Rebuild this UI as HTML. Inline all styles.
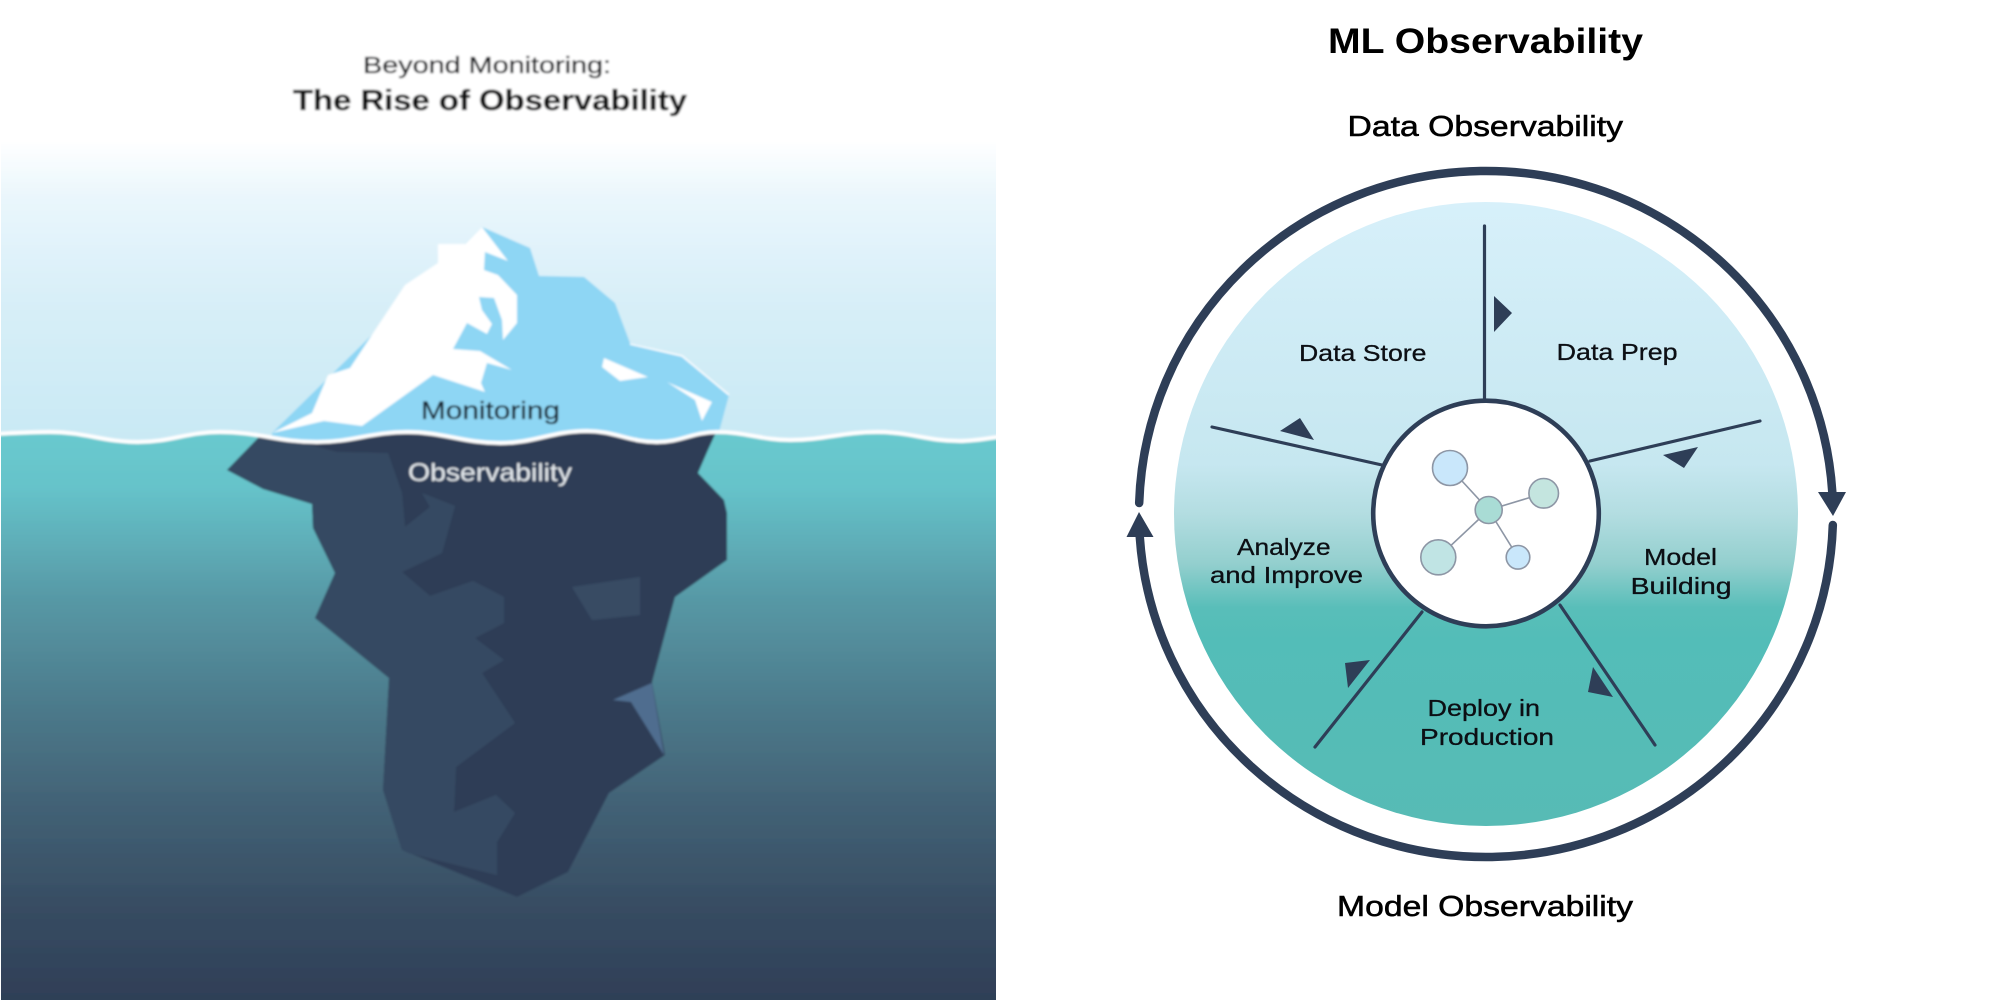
<!DOCTYPE html>
<html><head><meta charset="utf-8"><style>
html,body{margin:0;padding:0;background:#fff}
svg{display:block}
text{font-family:"Liberation Sans",sans-serif}
.m{fill:#0c0f14;stroke:#0c0f14;stroke-width:.3}
.h{fill:#000;stroke:#000;stroke-width:.55}
</style></head><body>
<svg xmlns="http://www.w3.org/2000/svg" width="1996" height="1000" viewBox="0 0 1996 1000">
<defs>
<linearGradient id="sky" gradientUnits="userSpaceOnUse" x1="0" y1="140" x2="0" y2="440">
<stop offset="0" stop-color="#fff"/><stop offset=".2" stop-color="#e9f6fc"/><stop offset=".53" stop-color="#d8eff8"/><stop offset="1" stop-color="#c9e9f4"/>
</linearGradient>
<linearGradient id="sea" gradientUnits="userSpaceOnUse" x1="0" y1="437" x2="0" y2="1000">
<stop offset="0" stop-color="#68c9ce"/><stop offset=".09" stop-color="#66c3ca"/><stop offset=".29" stop-color="#5798a5"/><stop offset=".48" stop-color="#4c7a8b"/><stop offset=".66" stop-color="#426175"/><stop offset=".84" stop-color="#374c62"/><stop offset="1" stop-color="#2f3f57"/>
</linearGradient>
<linearGradient id="disc" gradientUnits="userSpaceOnUse" x1="0" y1="202" x2="0" y2="826">
<stop offset="0" stop-color="#d7f0fa"/><stop offset=".42" stop-color="#c6e7f0"/><stop offset=".5" stop-color="#b3dde1"/><stop offset=".58" stop-color="#93cfce"/><stop offset=".65" stop-color="#59beb9"/><stop offset=".7" stop-color="#53bdb8"/><stop offset="1" stop-color="#57bbb5"/>
</linearGradient>
<filter id="b" x="-2%" y="-2%" width="104%" height="104%"><feGaussianBlur stdDeviation="1"/></filter>
<clipPath id="lp"><rect x="1" y="0" width="995" height="1000"/></clipPath>
<clipPath id="below"><path d="M-5 434 C15 433,30 432,50 432 C85 432,103 442,138 442 C171 442,187 432,220 432 C259 432,278 442,317 442 C353 442,371 432,407 432 C444 432,463 443,500 443 C535 443,552 431,587 431 C615 431,629 442,657 442 C681 442,693 432,717 432 C746 432,761 440,790 440 C825 440,842 432,877 432 C910 432,927 441,960 441 C975 441,990 438,1005 436 L1005 1005 L-5 1005 Z"/></clipPath>
</defs>

<g clip-path="url(#lp)"><g filter="url(#b)">
<rect x="-5" y="0" width="1010" height="1005" fill="url(#sky)"/>
<polygon fill="#8ed6f4" points="482,227 530,248 539,276 584,277 615,303 630,343 682,356 729,395 719,432 716,450 272,450 272,433"/>
<polyline fill="none" stroke="#fff" stroke-width="1.5" points="630,344 682,356 729,395"/>
<polygon fill="#fff" points="272,433 312,413 328,375 350,368 405,285 438,263 438,244 465,244 482,227 508,261 485,252 484,270 498,275 517,295 517,323 503,340 502,320 494,298 479,297 482,310 492,324 487,334 467,323 453,349 480,351 512,370 487,363 481,383 485,392 433,375 362,426 324,421"/>
<polygon fill="#fff" points="604,358 648,377 620,381 602,367"/>
<polygon fill="#fff" points="667,382 712,402 702,421 695,400"/>
<rect x="-5" y="420" width="1010" height="590" fill="url(#sea)" clip-path="url(#below)"/>
<g clip-path="url(#below)">
<polygon fill="#2e3e57" points="268,428 718,428 708,450 698,473 724,500 727,513 727,560 675,597 652,682 665,755 609,793 568,872 517,897 402,850 383,790 389,678 315,618 335,573 313,528 312,504 263,489 227,470 258,438"/>
<polygon fill="#364a62" points="258,438 310,445 337,452 388,453 402,493 405,527 430,507 422,493 455,506 442,553 402,572 430,596 473,581 504,597 504,623 475,638 504,660 482,673 515,723 456,767 454,812 496,795 515,813 497,842 497,875 408,853 402,850 383,790 389,678 315,618 335,573 313,528 312,504 263,489 227,470"/>
<polygon fill="#374b63" points="572,587 640,577 640,615 592,620"/>
<polygon fill="#4f6d8f" points="613,700 652,683 664,755 631,702"/>
</g>
<path fill="none" stroke="#fff" stroke-width="4" d="M-5 434 C15 433,30 432,50 432 C85 432,103 442,138 442 C171 442,187 432,220 432 C259 432,278 442,317 442 C353 442,371 432,407 432 C444 432,463 443,500 443 C535 443,552 431,587 431 C615 431,629 442,657 442 C681 442,693 432,717 432 C746 432,761 440,790 440 C825 440,842 432,877 432 C910 432,927 441,960 441 C975 441,990 438,1005 436"/>
<text x="363" y="73" font-size="23" fill="#14171c" stroke="#14171c" stroke-width=".35" textLength="248" lengthAdjust="spacingAndGlyphs">Beyond Monitoring:</text>
<text x="293" y="110" font-size="29" font-weight="bold" fill="#0b0d11" stroke="#0b0d11" stroke-width=".3" textLength="394" lengthAdjust="spacingAndGlyphs">The Rise of Observability</text>
<text x="421" y="419" font-size="25" fill="#16222f" stroke="#16222f" stroke-width=".3" textLength="139" lengthAdjust="spacingAndGlyphs">Monitoring</text>
<text x="408" y="481" font-size="25" fill="#e6ebef" textLength="164" lengthAdjust="spacingAndGlyphs">Observability</text>
</g></g>

<circle cx="1486" cy="514" r="312" fill="url(#disc)"/>
<path d="M1139.18 503 A347 343 0 0 1 1832.29 492" fill="none" stroke="#2e3e57" stroke-width="8.5" stroke-linecap="round"/>
<path d="M1832.82 525 A347 343 0 0 1 1139.78 537" fill="none" stroke="#2e3e57" stroke-width="8.5" stroke-linecap="round"/>
<polygon fill="#2e3e57" points="1818,492 1846,492 1833,516"/>
<polygon fill="#2e3e57" points="1126.5,537 1153.5,537 1139,512"/>

<g stroke="#2e3e57" stroke-width="3.2" stroke-linecap="round" fill="none">
<line x1="1484.5" y1="226" x2="1484.5" y2="402"/>
<line x1="1760" y1="421" x2="1590" y2="461"/>
<line x1="1212" y1="427" x2="1382" y2="465"/>
<line x1="1315" y1="747" x2="1422" y2="612"/>
<line x1="1655" y1="745" x2="1560" y2="605"/>
</g>
<circle cx="1486" cy="513.5" r="112.8" fill="#fff" stroke="#2e3e57" stroke-width="4.6"/>
<g fill="#2e3e57">
<polygon points="1494,296 1512,313 1494,332"/>
<polygon points="1300,418 1314,440 1280,431"/>
<polygon points="1698,447 1663,455 1684,468"/>
<polygon points="1370,660 1345,663 1348,688"/>
<polygon points="1593,667 1588,692 1613,697"/>
</g>
<g stroke="#8d96a5" stroke-width="1.6">
<line x1="1450" y1="468" x2="1488.7" y2="510"/>
<line x1="1543.7" y1="493.3" x2="1488.7" y2="510"/>
<line x1="1438.3" y1="557.3" x2="1488.7" y2="510"/>
<line x1="1518" y1="557.3" x2="1488.7" y2="510"/>
<circle cx="1450" cy="468" r="17.5" fill="#c9e7fb"/>
<circle cx="1543.7" cy="493.3" r="14.8" fill="#c4e5df"/>
<circle cx="1488.7" cy="510" r="13.5" fill="#a9dcd5"/>
<circle cx="1438.3" cy="557.3" r="17.5" fill="#c0e4e4"/>
<circle cx="1518" cy="557.3" r="11.8" fill="#c9e7fb"/>
</g>

<text x="1328" y="53" font-size="35.5" font-weight="bold" fill="#000" textLength="315" lengthAdjust="spacingAndGlyphs">ML Observability</text>
<text class="h" x="1347.5" y="136" font-size="29" textLength="275.5" lengthAdjust="spacingAndGlyphs">Data Observability</text>
<text class="h" x="1337" y="916" font-size="29" textLength="296" lengthAdjust="spacingAndGlyphs">Model Observability</text>
<text class="m" x="1299" y="361" font-size="23.5" textLength="127.5" lengthAdjust="spacingAndGlyphs">Data Store</text>
<text class="m" x="1556.6" y="360" font-size="23.5" textLength="121" lengthAdjust="spacingAndGlyphs">Data Prep</text>
<text class="m" x="1237" y="555" font-size="23.5" textLength="93.6" lengthAdjust="spacingAndGlyphs">Analyze</text>
<text class="m" x="1210" y="583" font-size="23.5" textLength="153" lengthAdjust="spacingAndGlyphs">and Improve</text>
<text class="m" x="1644" y="565" font-size="23.5" textLength="73" lengthAdjust="spacingAndGlyphs">Model</text>
<text class="m" x="1630.6" y="594" font-size="23.5" textLength="101" lengthAdjust="spacingAndGlyphs">Building</text>
<text class="m" x="1427.5" y="716" font-size="23.5" textLength="112.5" lengthAdjust="spacingAndGlyphs">Deploy in</text>
<text class="m" x="1420" y="745" font-size="23.5" textLength="134" lengthAdjust="spacingAndGlyphs">Production</text>
</svg>
</body></html>
